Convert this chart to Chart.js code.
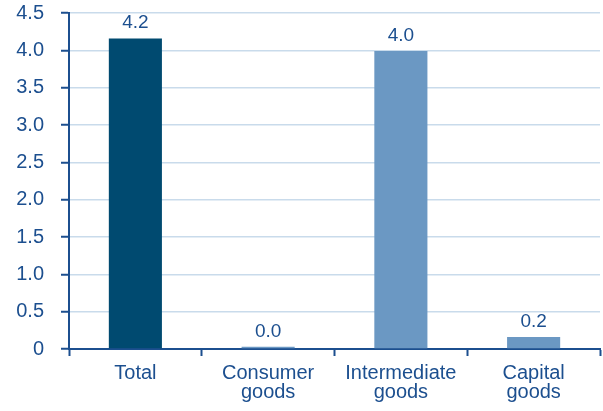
<!DOCTYPE html>
<html>
<head>
<meta charset="utf-8">
<script src="https://cdn.jsdelivr.net/npm/chart.js@4.4.1/dist/chart.umd.min.js"></script>
<style>
  html, body { margin: 0; padding: 0; background: #fff; }
  #wrap { width: 603px; height: 411px; position: relative; }
</style>
</head>
<body>
<div id="wrap"><canvas id="chart"></canvas></div>
<script>
// --- Données ---
const categories = [['Total'], ['Consumer', 'goods'], ['Intermediate', 'goods'], ['Capital', 'goods']];
const values = [4.16, 0.03, 3.99, 0.16];
const valueLabels = ['4.2', '0.0', '4.0', '0.2'];
const barColors = ['#004a70', '#6b98c3', '#6b98c3', '#6b98c3'];

const textColor = '#1c4f8f';
const axisColor = '#1c4f8f';
const gridColor = '#c9dbeb';
const fontFamily = '"Liberation Sans", Arial, sans-serif';

// --- Étiquettes au-dessus des barres ---
const valueLabelPlugin = {
    id: 'valueLabels',
    afterDatasetsDraw(chart) {
        const ctx = chart.ctx;
        const meta = chart.getDatasetMeta(0);
        ctx.save();
        ctx.font = '19px ' + fontFamily;
        ctx.fillStyle = textColor;
        ctx.textAlign = 'center';
        ctx.textBaseline = 'alphabetic';
        meta.data.forEach((bar, i) => {
            ctx.fillText(valueLabels[i], bar.x, bar.y - 10);
        });
        ctx.restore();
    }
};

new Chart(document.getElementById('chart'), {
    type: 'bar',
    data: {
        labels: categories,
        datasets: [{
            data: values,
            backgroundColor: barColors,
            barPercentage: 0.4,
            categoryPercentage: 1.0
        }]
    },
    options: {
        responsive: true,
        maintainAspectRatio: false,
        animation: false,
        layout: { padding: { top: 13, right: 3, left: 0, bottom: 0 } },
        plugins: {
            legend: { display: false },
            tooltip: { enabled: false }
        },
        scales: {
            x: {
                afterFit: (scale) => {
                    scale.height = 62;
                    scale.paddingLeft = 0;
                    scale.paddingRight = 0;
                },
                border: { color: axisColor, width: 2 },
                grid: {
                    offset: true,
                    drawOnChartArea: false,
                    drawTicks: true,
                    tickLength: 7,
                    tickWidth: 2,
                    color: axisColor
                },
                ticks: {
                    color: textColor,
                    padding: 8,
                    font: { family: fontFamily, size: 20, lineHeight: 0.95 }
                }
            },
            y: {
                min: 0,
                max: 4.5,
                afterFit: (scale) => {
                    scale.width = 69;
                    scale.paddingTop = 0;
                    scale.paddingBottom = 0;
                },
                border: { color: axisColor, width: 2 },
                grid: {
                    color: gridColor,
                    lineWidth: 1.5,
                    drawTicks: true,
                    tickLength: 8,
                    tickColor: axisColor,
                    tickWidth: 2
                },
                ticks: {
                    stepSize: 0.5,
                    color: textColor,
                    padding: 17,
                    font: { family: fontFamily, size: 20 },
                    callback: (v) => v === 0 ? '0' : v.toFixed(1)
                }
            }
        }
    },
    plugins: [valueLabelPlugin]
});
</script>
</body>
</html>
